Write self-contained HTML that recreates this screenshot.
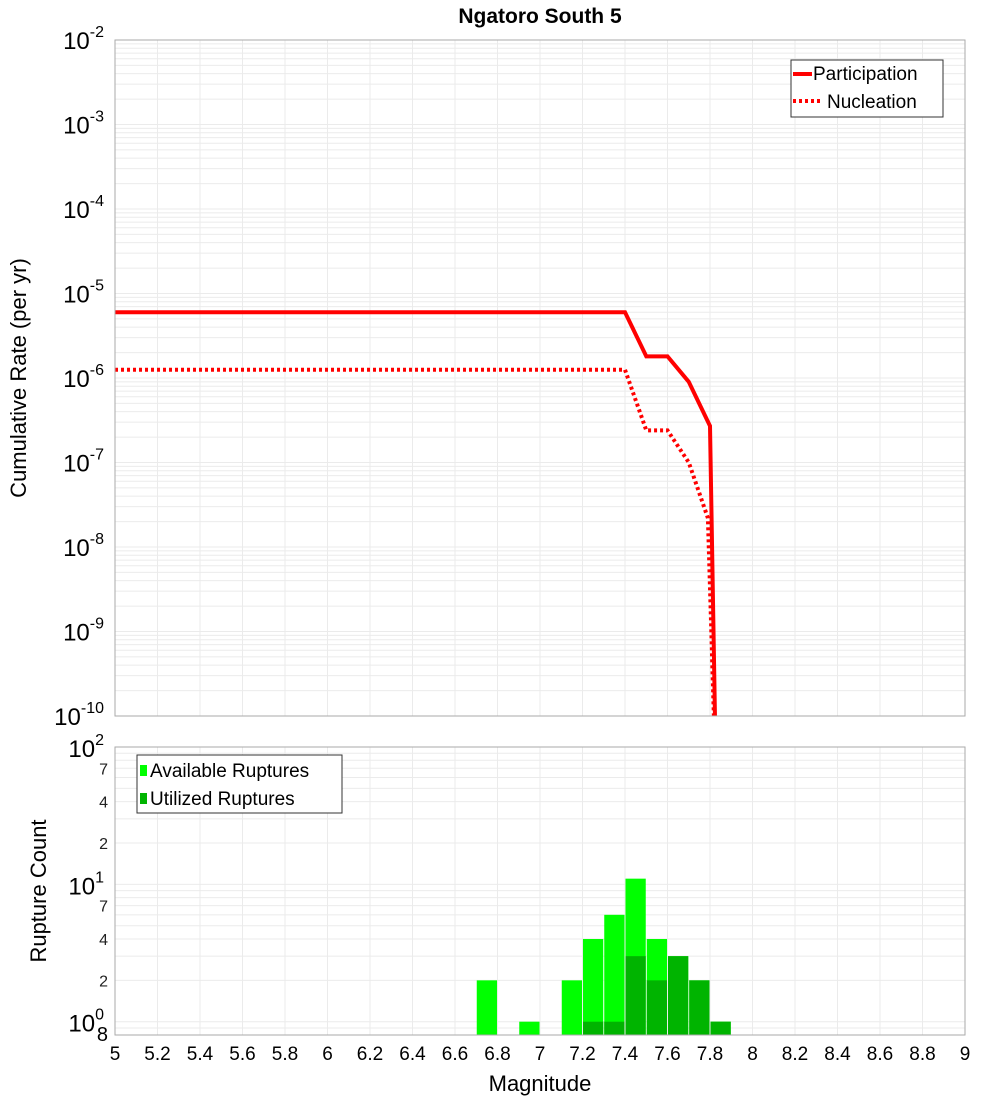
<!DOCTYPE html>
<html><head><meta charset="utf-8"><style>
html,body{margin:0;padding:0;background:#fff;}
svg{display:block;font-family:"Liberation Sans","DejaVu Sans",sans-serif;}
</style></head><body>
<svg id="chart" width="1000" height="1100" viewBox="0 0 1000 1100" xmlns="http://www.w3.org/2000/svg">
<text x="540" y="23" text-anchor="middle" font-size="21" font-weight="bold">Ngatoro South 5</text>
<g id="topPlot"></g>
<g id="botPlot"></g>
<text transform="translate(26,378) rotate(-90)" text-anchor="middle" font-size="22">Cumulative Rate (per yr)</text>
<text transform="translate(46,891) rotate(-90)" text-anchor="middle" font-size="22">Rupture Count</text>
<text x="540" y="1091" text-anchor="middle" font-size="22">Magnitude</text>
</svg>
<script>
const xTicks=[5,5.2,5.4,5.6,5.8,6,6.2,6.4,6.6,6.8,7,7.2,7.4,7.6,7.8,8,8.2,8.4,8.6,8.8,9];
const partMag=[5,7.4,7.5,7.6,7.7,7.8,7.83];
const partRate=[6e-6,6e-6,1.8e-6,1.8e-6,9e-7,2.7e-7,1e-11];
const nuclMag=[5,7.4,7.5,7.6,7.7,7.79,7.83];
const nuclRate=[1.25e-6,1.25e-6,2.4e-7,2.4e-7,1e-7,2.2e-8,1e-11];
const binMag=[6.7,6.9,7.1,7.2,7.3,7.4,7.5,7.6,7.7,7.8];
const availCount=[2,1,2,4,6,11,4,3,2,1];
const usedCount=[0,0,0,1,1,3,2,3,2,1];
const topDecades=[-2,-3,-4,-5,-6,-7,-8,-9,-10];

const NS="http://www.w3.org/2000/svg";
const X0=115,X1=965;
const xs=m=>X0+(m-5)/4*(X1-X0);
const T0=40,T1=716;
const yTop=v=>T0+(-2-Math.log10(v))/8*(T1-T0);
const B0=747,B1=1035,bMin=Math.log10(0.8);
const yBot=v=>B0+(2-Math.log10(v))/(2-bMin)*(B1-B0);
function el(tag,attrs,parent,txt){const e=document.createElementNS(NS,tag);for(const k in attrs)e.setAttribute(k,attrs[k]);if(txt!==undefined)e.textContent=txt;parent.appendChild(e);return e;}
const gTop=document.getElementById('topPlot'),gBot=document.getElementById('botPlot');

el('rect',{x:X0,y:T0,width:X1-X0,height:T1-T0,fill:'#fff'},gTop);
for(let d=-10;d<-2;d++)for(let k=1;k<10;k++){const y=yTop(k*Math.pow(10,d));
 const l=el('line',{x1:X0,x2:X1,y1:y,y2:y,stroke:'#ebebeb','stroke-width':1},gTop);
 
 }
xTicks.forEach(t=>{const x=xs(t);
 const l=el('line',{x1:x,x2:x,y1:T0,y2:T1,stroke:'#ebebeb'},gTop);
 
 
 const l2=el('line',{x1:x,x2:x,y1:B0,y2:B1,stroke:'#ebebeb'},gBot);
 
 });
topDecades.forEach(d=>{const y=yTop(Math.pow(10,d));
 const t=el('text',{x:104,y:y+9,'text-anchor':'end','font-size':24},gTop);
 
 
 el('tspan',{},t,'10');el('tspan',{dy:-12,'font-size':16},t,String(d));});
function path(ms,vs,f){return ms.map((m,i)=>(i?'L':'M')+xs(m).toFixed(1)+','+f(vs[i]).toFixed(1)).join(' ');}
const clip=el('clipPath',{id:'tc'},gTop);el('rect',{x:X0,y:T0,width:X1-X0,height:T1-T0},clip);
const p1=el('path',{d:path(partMag,partRate,yTop),fill:'none',stroke:'#ff0000','stroke-width':4,'clip-path':'url(#tc)'},gTop);


const p2=el('path',{d:path(nuclMag,nuclRate,yTop),fill:'none',stroke:'#ff0000','stroke-width':4,'stroke-dasharray':'3,3','clip-path':'url(#tc)'},gTop);


el('rect',{x:X0,y:T0,width:X1-X0,height:T1-T0,fill:'none',stroke:'#aaa'},gTop);
const lg=el('g',{},gTop);


el('rect',{x:791,y:60,width:152,height:57,fill:'#fff',stroke:'#333'},lg);
el('line',{x1:793,x2:812,y1:74,y2:74,stroke:'#f00','stroke-width':4},lg);
el('text',{x:813,y:80,'font-size':19},lg,'Participation');
el('line',{x1:793,x2:822,y1:101,y2:101,stroke:'#f00','stroke-width':4,'stroke-dasharray':'3,3'},lg);
el('text',{x:827,y:108,'font-size':19},lg,'Nucleation');

for(let d=-1;d<2;d++)for(let k=1;k<10;k++){const v=k*Math.pow(10,d);if(v<0.8)continue;const y=yBot(v);
 const l=el('line',{x1:X0,x2:X1,y1:y,y2:y,stroke:'#ebebeb'},gBot);
 
 }
[[1,0],[10,1],[100,2]].forEach(([v,d])=>{const y=yBot(v);
 const t=el('text',{x:104,y:y+10,'text-anchor':'end','font-size':24},gBot);
 
 
 el('tspan',{},t,'10');el('tspan',{dy:-12,'font-size':16},t,String(d));});
[2,4,7,20,40,70].forEach(v=>{const t=el('text',{x:108,y:yBot(v)+6,'text-anchor':'end','font-size':16,fill:'#222'},gBot,String(v<10?v:v/10));
 
 });
const t8=el('text',{x:108,y:1041,'text-anchor':'end','font-size':20},gBot,'8');


binMag.forEach((m,i)=>{const x=xs(m)+0.5,w=xs(m+0.1)-xs(m)-1;
 const a=el('rect',{x:x,y:yBot(availCount[i]),width:w,height:B1-yBot(availCount[i]),fill:'#00ff00'},gBot);
 
 
 if(usedCount[i]>0){const u=el('rect',{x:x,y:yBot(usedCount[i]),width:w,height:B1-yBot(usedCount[i]),fill:'#00b400'},gBot);
 
 }});
el('rect',{x:X0,y:B0,width:X1-X0,height:B1-B0,fill:'none',stroke:'#aaa'},gBot);
xTicks.forEach(t=>{const tx=el('text',{x:xs(t),y:1060,'text-anchor':'middle','font-size':19},gBot,String(t));
 
 });
const lb=el('g',{},gBot);


el('rect',{x:137,y:755,width:205,height:58,fill:'#fff',stroke:'#333'},lb);
el('rect',{x:140,y:765,width:7,height:11,fill:'#00ff00'},lb);
el('text',{x:150,y:777,'font-size':19},lb,'Available Ruptures');
el('rect',{x:140,y:793,width:7,height:11,fill:'#00b400'},lb);
el('text',{x:150,y:805,'font-size':19},lb,'Utilized Ruptures');
</script>
</body></html>
